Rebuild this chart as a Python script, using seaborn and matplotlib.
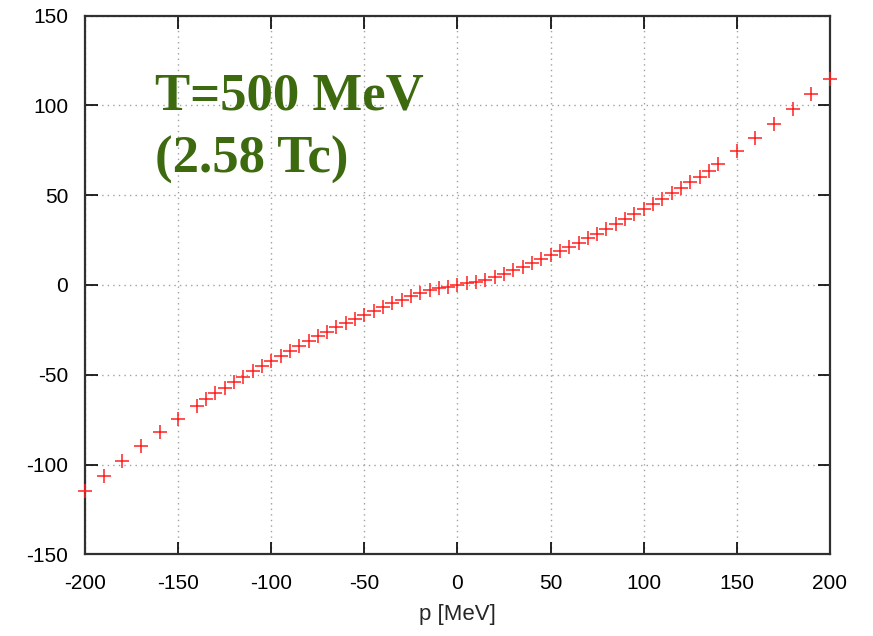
import matplotlib
matplotlib.use("Agg")
import matplotlib.pyplot as plt
import numpy as np
import pandas as pd
import seaborn as sns

# Data (positive half; the curve is odd-symmetric)
p_pos = [0, 5, 10, 15, 20, 25, 30, 35, 40, 45, 50, 55, 60, 65, 70, 75, 80,
         85, 90, 95, 100, 105, 110, 115, 120, 125, 130, 135, 140,
         150, 160, 170, 180, 190, 200]
e_pos = [0.0, 0.9, 1.8, 3.0, 4.6, 6.4, 8.3, 10.3, 12.3, 14.4, 16.5, 18.7, 21.0,
         23.5, 26.0, 28.6, 31.2, 33.9, 36.6, 39.4, 42.2, 45.1, 48.0, 51.0, 54.0,
         57.2, 60.4, 63.7, 67.2, 74.8, 82.0, 89.6, 97.8, 106.4, 114.8]
p_neg = [-v for v in p_pos[1:]]
e_neg = [-v for v in e_pos[1:]]

x_ticks = [-200, -150, -100, -50, 0, 50, 100, 150, 200]
y_ticks = [-150, -100, -50, 0, 50, 100, 150]

df = pd.DataFrame({"p": p_neg[::-1] + p_pos, "E": e_neg[::-1] + e_pos})

sns.set_style("ticks")
plt.rcParams['font.family'] = ['Liberation Sans', 'DejaVu Sans']
plt.rcParams['axes.unicode_minus'] = False

fig = plt.figure(figsize=(8.73, 6.36), dpi=100)
ax = fig.add_axes([0.0974, 0.1285, 0.8533, 0.8468])

sns.scatterplot(data=df, x="p", y="E", marker="+", s=110, color="#ff2020",
                linewidth=1.1, ax=ax, zorder=3, legend=False, clip_on=False)

ax.set_xlim(-200, 200)
ax.set_ylim(-150, 150)
ax.set_xticks(x_ticks)
ax.set_yticks(y_ticks)
ax.tick_params(direction="in", length=9, width=1.2, top=True, right=True,
               labelsize=15, colors="black")
ax.tick_params(axis="x", pad=14)
ax.tick_params(axis="y", pad=12)
ax.grid(True, linestyle=(0, (1, 3)), color="#a0a0a0", linewidth=1)
for s in ax.spines.values():
    s.set_linewidth(1.6)
    s.set_color("#303030")

ax.set_xlabel("p [MeV]", fontsize=16, labelpad=8)
ax.set_ylabel("")

ax.text(-162.5, 97.5, "T=500 MeV", fontsize=38, fontweight="bold",
        family="Liberation Serif", color="#3d6a0f")
ax.text(-162.5, 62.5, "(2.58 Tc)", fontsize=38, fontweight="bold",
        family="Liberation Serif", color="#3d6a0f")

fig.savefig("out.png", dpi=100)
